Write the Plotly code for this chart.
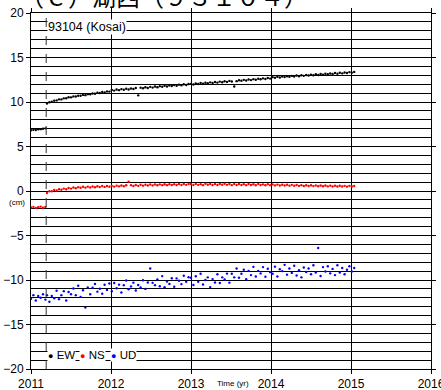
import plotly.graph_objects as go

# ---------------- data (decimal years, cm) ----------------
quake_time = 2011.19
station_label = "93104 (Kosai)"
title_text = "（ｃ）湖西（９３１０４）"

t_pre = [2011.00, 2011.03, 2011.06, 2011.09, 2011.12, 2011.15, 2011.18]
t_2011 = [2011.20, 2011.23, 2011.26, 2011.29, 2011.32, 2011.35, 2011.38, 2011.41, 2011.44,
          2011.47, 2011.50, 2011.53, 2011.56, 2011.59, 2011.62, 2011.65, 2011.68, 2011.71,
          2011.74, 2011.77, 2011.80, 2011.83, 2011.86, 2011.89, 2011.92, 2011.95, 2011.98]
t_2012 = [2012.01, 2012.04, 2012.07, 2012.10, 2012.13, 2012.16, 2012.19, 2012.22, 2012.25,
          2012.28, 2012.31, 2012.34, 2012.37, 2012.40, 2012.43, 2012.46, 2012.49, 2012.52,
          2012.55, 2012.58, 2012.61, 2012.64, 2012.67, 2012.70, 2012.73, 2012.76, 2012.79,
          2012.82, 2012.85, 2012.88, 2012.91, 2012.94, 2012.97]
t_2013 = [2013.00, 2013.03, 2013.06, 2013.09, 2013.12, 2013.15, 2013.18, 2013.21, 2013.24,
          2013.27, 2013.30, 2013.33, 2013.36, 2013.39, 2013.42, 2013.45, 2013.48, 2013.51,
          2013.54, 2013.57, 2013.60, 2013.63, 2013.66, 2013.69, 2013.72, 2013.75, 2013.78,
          2013.81, 2013.84, 2013.87, 2013.90, 2013.93, 2013.96, 2013.99]
t_2014 = [2014.02, 2014.05, 2014.08, 2014.11, 2014.14, 2014.17, 2014.20, 2014.23, 2014.26,
          2014.29, 2014.32, 2014.35, 2014.38, 2014.41, 2014.44, 2014.47, 2014.50, 2014.53,
          2014.56, 2014.59, 2014.62, 2014.65, 2014.68, 2014.71, 2014.74, 2014.77, 2014.80,
          2014.83, 2014.86, 2014.89, 2014.92, 2014.95, 2014.98]
t_2015 = [2015.01, 2015.04]

ew_pre = [6.82, 6.88, 6.86, 6.93, 6.95, 7.00, 7.04]
ew_2011 = [9.82, 9.98, 10.03, 10.15, 10.18, 10.30, 10.29, 10.41, 10.42, 10.53, 10.52, 10.63,
           10.61, 10.71, 10.70, 10.80, 10.77, 10.88, 10.86, 10.95, 10.93, 11.04, 11.01, 11.12,
           11.08, 11.19, 11.17]
ew_2012 = [11.36, 11.28, 11.41, 11.33, 11.45, 11.37, 11.49, 11.40, 11.52, 11.46, 11.58, 10.75,
           11.61, 11.55, 11.66, 11.57, 11.70, 11.62, 11.74, 11.66, 11.78, 11.71, 11.82, 11.74,
           11.86, 11.79, 11.90, 11.82, 11.95, 11.87, 11.99, 11.91, 12.02]
ew_2013 = [12.04, 11.97, 12.09, 12.02, 12.13, 12.06, 12.17, 12.10, 12.21, 12.14, 12.25, 12.18,
           12.29, 12.22, 12.33, 12.26, 12.37, 12.30, 11.75, 12.34, 12.45, 12.38, 12.49, 12.42,
           12.53, 12.46, 12.57, 12.50, 12.61, 12.55, 12.66, 12.59, 12.70, 12.63]
ew_2014 = [12.79, 12.72, 12.83, 12.76, 12.86, 12.80, 12.90, 12.83, 12.93, 12.87, 12.97, 12.90,
           13.00, 12.94, 13.04, 12.97, 13.07, 13.01, 13.11, 13.04, 13.14, 13.08, 13.18, 13.11,
           13.21, 13.15, 13.25, 13.18, 13.28, 13.22, 13.32, 13.25, 13.36]
ew_2015 = [13.30, 13.38]

ns_pre = [-1.85, -1.78, -1.90, -1.82, -1.75, -1.88, -1.80]
ns_2011 = [-0.22, -0.02, -0.03, 0.12, 0.06, 0.20, 0.14, 0.27, 0.20, 0.33, 0.27, 0.39, 0.31,
           0.43, 0.36, 0.47, 0.38, 0.49, 0.40, 0.51, 0.42, 0.54, 0.44, 0.56, 0.46, 0.57, 0.47]
ns_2012 = [0.58, 0.49, 0.60, 0.52, 0.62, 0.53, 0.64, 1.05, 0.66, 0.57, 0.68, 0.58, 0.70, 0.60,
           0.71, 0.62, 0.73, 0.63, 0.74, 0.64, 0.75, 0.66, 0.76, 0.66, 0.77, 0.67, 0.77, 0.68,
           0.78, 0.68, 0.78, 0.69, 0.79]
ns_2013 = [0.78, 0.67, 0.80, 0.69, 0.77, 0.66, 0.81, 0.70, 0.78, 0.67, 0.80, 0.68, 0.79, 0.70,
           0.82, 0.69, 0.78, 0.66, 0.80, 0.68, 0.79, 0.67, 0.77, 0.66, 0.79, 0.68, 0.76, 0.65,
           0.78, 0.67, 0.75, 0.64, 0.77, 0.66]
ns_2014 = [0.74, 0.63, 0.72, 0.62, 0.71, 0.61, 0.70, 0.60, 0.69, 0.59, 0.68, 0.58, 0.66, 0.57,
           0.65, 0.56, 0.64, 0.55, 0.63, 0.54, 0.62, 0.53, 0.61, 0.52, 0.60, 0.51, 0.60, 0.50,
           0.59, 0.50, 0.58, 0.49, 0.58]
ns_2015 = [0.50, 0.56]

ud_pre = [-12.10, -11.70, -12.30, -11.80, -12.00, -11.60, -12.20]
ud_2011 = [-11.70, -12.45, -11.80, -12.05, -11.20, -12.15, -11.70, -11.25, -12.30, -11.35,
           -11.60, -10.95, -11.70, -10.65, -11.90, -11.15, -13.10, -10.85, -11.60, -10.87,
           -10.44, -11.31, -10.98, -11.55, -10.53, -11.11, -10.39]
ud_2012 = [-11.25, -10.34, -10.93, -10.52, -11.40, -10.58, -10.06, -11.04, -10.72, -10.30,
           -11.18, -10.56, -10.84, -10.02, -11.00, -10.28, -8.70, -10.32, -10.58, -9.94,
           -10.70, -9.56, -10.82, -10.18, -10.44, -9.80, -10.76, -9.82, -10.09, -10.46,
           -9.53, -10.21, -9.69]
ud_2013 = [-9.75, -10.57, -9.58, -10.19, -9.30, -10.50, -10.00, -9.70, -10.80, -9.90,
           -10.28, -9.36, -10.33, -9.70, -9.95, -9.28, -10.30, -9.30, -9.70, -8.70,
           -9.75, -9.30, -8.85, -9.91, -8.98, -9.45, -8.52, -9.60, -8.98, -9.26,
           -8.55, -9.64, -8.73, -9.12]
ud_2014 = [-9.30, -8.50, -9.60, -8.80, -9.00, -8.30, -9.40, -8.70, -9.20, -8.40,
           -9.50, -8.90, -9.70, -8.60, -9.10, -8.70, -9.35, -8.35, -9.15, -6.40,
           -9.55, -8.55, -9.05, -8.45, -9.25, -8.75, -9.45, -8.35, -9.15, -8.65,
           -9.35, -8.85, -8.45]
ud_2015 = [-9.05, -8.65]

x_ticks = [2011, 2012, 2013, 2014, 2015, 2016]
y_ticks = [-20, -15, -10, -5, 0, 5, 10, 15, 20]
y_ticklabels = ["\u221220", "\u221215", "\u221210", "\u22125", "0", "5", "10", "15", "20"]

series_names = ["EW", "NS", "UD"]
series_colors = ["#000000", "#ff0000", "#0000ff"]

# ---------------- assemble ----------------
t_all = t_pre + t_2011 + t_2012 + t_2013 + t_2014 + t_2015
ew = ew_pre + ew_2011 + ew_2012 + ew_2013 + ew_2014 + ew_2015
ns = ns_pre + ns_2011 + ns_2012 + ns_2013 + ns_2014 + ns_2015
ud = ud_pre + ud_2011 + ud_2012 + ud_2013 + ud_2014 + ud_2015
assert len(t_all) == len(ew) == len(ns) == len(ud), (len(t_all), len(ew), len(ns), len(ud))

fig = go.Figure()
for name, vals, col in zip(series_names, [ew, ns, ud], series_colors):
    fig.add_trace(go.Scatter(x=t_all, y=vals, mode="markers", name=name,
                             marker=dict(color=col, size=2.4, line=dict(width=0)),
                             showlegend=False, hoverinfo="skip"))

FONT = "Liberation Sans, Arial, sans-serif"
fig.update_layout(
    width=441, height=390,
    margin=dict(l=31, r=10, t=13, b=21, pad=0),
    paper_bgcolor="white", plot_bgcolor="white",
    font=dict(family=FONT, size=12, color="black"),
    xaxis=dict(range=[2011, 2016], tickvals=x_ticks, ticktext=[str(v) for v in x_ticks],
               automargin=False, ticklabeloverflow="allow",
               showgrid=True, gridcolor="black", gridwidth=1, zeroline=False,
               showline=True, linecolor="black", linewidth=1, mirror="ticks",
               ticks="outside", ticklen=4, tickcolor="black", tickfont=dict(size=12)),
    yaxis=dict(range=[-20, 20], tickvals=y_ticks, ticktext=y_ticklabels,
               automargin=False,
               showgrid=True, gridcolor="black", gridwidth=1, zeroline=False,
               showline=True, linecolor="black", linewidth=1, mirror="ticks",
               ticks="outside", ticklen=4, tickcolor="black", tickfont=dict(size=12),
               minor=dict(dtick=1, tick0=0, showgrid=True, gridcolor="black", gridwidth=1)),
)

fig.add_vline(x=quake_time, line=dict(color="#333333", width=1, dash="dash"))

# station label
fig.add_annotation(x=quake_time + 0.01, y=18.45, xref="x", yref="y", text=station_label,
                   showarrow=False, xanchor="left", yanchor="middle", bgcolor="white",
                   borderpad=0, font=dict(size=12.5))

# pseudo legend
legend_px = [47, 79, 110]
for name, col, px in zip(series_names, series_colors, legend_px):
    fig.add_annotation(x=(px - 31) / 400, y=-18.4, xref="paper", yref="y",
                       text=f'<span style="color:{col};font-size:9px">\u25cf</span> {name}',
                       showarrow=False, xanchor="left", yanchor="middle", bgcolor="white",
                       borderpad=0, font=dict(size=11.5))

# axis captions
fig.add_annotation(x=(233 - 31) / 400, y=(369 - 383) / 356, xref="paper", yref="paper",
                   text="Time (yr)", showarrow=False, xanchor="center", yanchor="middle",
                   font=dict(size=8))
fig.add_annotation(x=(17 - 31) / 400, y=(369 - 202) / 356, xref="paper", yref="paper",
                   text="(cm)", showarrow=False, xanchor="center", yanchor="middle",
                   font=dict(size=8))

# clipped title at the top
fig.add_annotation(x=(18 - 31) / 400, y=1.048, xref="paper", yref="paper", text=title_text,
                   showarrow=False, xanchor="left", yanchor="middle",
                   font=dict(size=24, family="Noto Sans CJK JP, Liberation Sans"))

fig.write_html("out.html")
